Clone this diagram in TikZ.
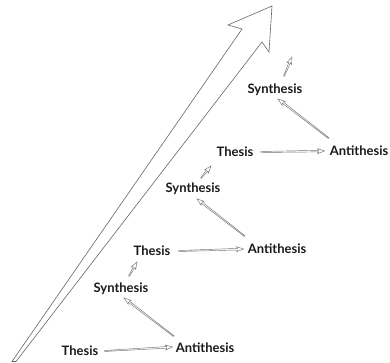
\documentclass[tikz,border=0pt]{standalone}
\usepackage{fontspec}
\setmainfont{Lato}
\usetikzlibrary{calc}
\tikzset{
  lbl/.style={inner sep=0pt, text height=9.5pt, text depth=0pt, font=\fontsize{13}{15}\selectfont\bfseries, text=black!90},
  hollow/.style={draw=black!55, line width=0.45pt, line join=miter,
    to path={let \p1=($(\tikztotarget)-(\tikztostart)$), \n1={atan2(\y1,\x1)}, \n2={veclen(\x1,\y1)-#1} in
      ($(\tikztostart)+({\n1+90}:0.5)$) -- ($(\tikztostart)+(\n1:\n2)+({\n1+90}:0.8)$) -- ($(\tikztostart)+(\n1:\n2-1)+({\n1+90}:2.5)$) -- (\tikztotarget) -- ($(\tikztostart)+(\n1:\n2-1)+({\n1-90}:2.5)$) -- ($(\tikztostart)+(\n1:\n2)+({\n1-90}:0.8)$) -- ($(\tikztostart)+({\n1-90}:0.5)$) -- cycle}},
  hollow/.default=6,
  bigarrow/.style={draw=black!60, line width=0.6pt, line join=miter}
}
\begin{document}
\begin{tikzpicture}[x=1pt,y=1pt]
\useasboundingbox (0,0) rectangle (390,362);
% big arrow
\draw[bigarrow] (12,0.5) -- (242,333) -- (228,337) -- (272,356) -- (269,310) -- (262,320) -- (16,0.5) -- cycle;
% labels
\node[lbl] (T1) at (80,11) {Thesis};
\node[lbl] (A1) at (205,14) {Antithesis};
\node[lbl] (S1) at (121,74) {Synthesis};
\node[lbl] (T2) at (152,111) {Thesis};
\node[lbl] (A2) at (277,113) {Antithesis};
\node[lbl] (S2) at (193,174) {Synthesis};
\node[lbl] (T3) at (235,210) {Thesis};
\node[lbl] (A3) at (359,211) {Antithesis};
\node[lbl] (S3) at (275,273) {Synthesis};
\coordinate (top) at ([shift={(17,27)}]S3.north);
% connectors
\draw[hollow] ([xshift=6pt]T1.east) to ([shift={(-3pt,1pt)}]A1.west);
\draw[hollow] ([xshift=8pt]T2.east) to ([xshift=-4pt]A2.west);
\draw[hollow] ([xshift=7pt]T3.east) to ([xshift=-5pt]A3.west);
\draw[hollow] ([shift={(-2pt,7pt)}]A1.north west) to ([shift={(3pt,-5pt)}]S1.south);
\draw[hollow] ([shift={(-3pt,8pt)}]A2.north west) to ([shift={(4pt,-6pt)}]S2.south);
\draw[hollow] ([shift={(-1pt,8pt)}]A3.north west) to ([shift={(3pt,-5pt)}]S3.south);
\draw[hollow=6] ([shift={(8pt,7pt)}]S1.north) to ([shift={(-15pt,-6pt)}]T2.south);
\draw[hollow=6] ([shift={(8pt,5pt)}]S2.north) to ([shift={(-24pt,-9pt)}]T3.south);
\draw[hollow=6] ([shift={(9pt,8pt)}]S3.north) to (top);
\end{tikzpicture}
\end{document}
